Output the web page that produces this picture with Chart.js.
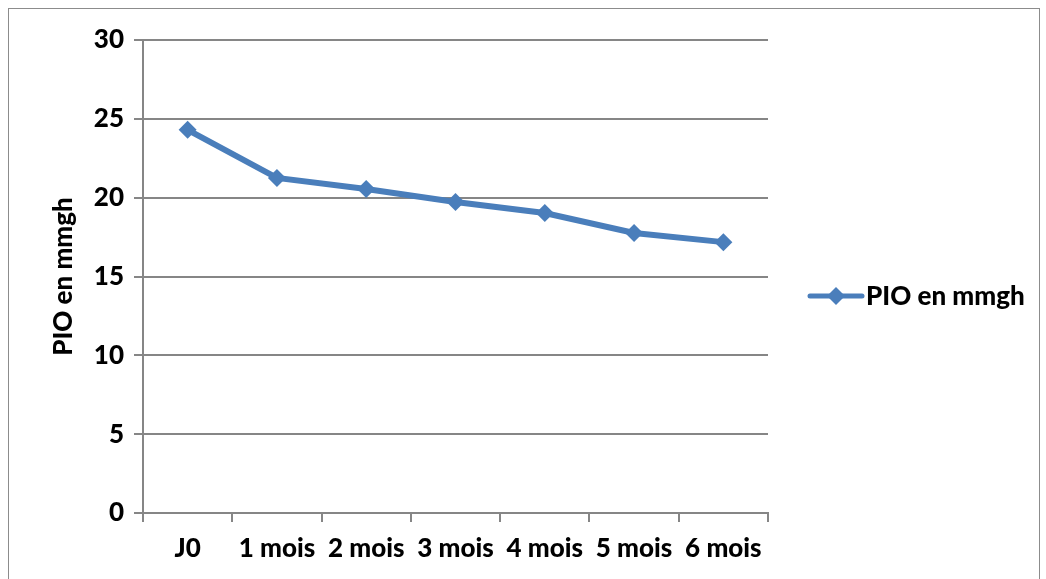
<!DOCTYPE html>
<html>
<head>
<meta charset="utf-8">
<script src="https://cdn.jsdelivr.net/npm/chart.js@4"></script>
<style>
  html, body { margin: 0; padding: 0; background: #fff; }
  #wrap { width: 1046px; height: 579px; position: relative; }
</style>
</head>
<body>
<div id="wrap"><canvas id="chart1" width="1046" height="579"></canvas></div>
<script>
var categories = ['J0', '1 mois', '2 mois', '3 mois', '4 mois', '5 mois', '6 mois'];
var pioValues = [24.3, 21.25, 20.55, 19.72, 19.03, 17.76, 17.18];
var seriesName = 'PIO en mmgh';
var yTicks = [0, 5, 10, 15, 20, 25, 30];

var lineColor = '#4a7ebb';
var gridColor = '#868686';
var fontFam = 'Lato, "Open Sans", sans-serif';

// outer frame + legend (line with diamond, like the original)
var framePlugin = {
    id: 'frameLegend',
    beforeDraw: function (chart) {
        var c = chart.ctx;
        c.save();
        c.strokeStyle = '#8c8c8c';
        c.lineWidth = 1;
        c.strokeRect(8.5, 8.5, 1031, 600);
        c.restore();
    },
    afterDraw: function (chart) {
        var c = chart.ctx;
        var y = 296;
        c.save();
        c.strokeStyle = lineColor;
        c.lineWidth = 5;
        c.lineCap = 'round';
        c.beginPath();
        c.moveTo(810, y);
        c.lineTo(862, y);
        c.stroke();
        c.fillStyle = lineColor;
        c.beginPath();
        c.moveTo(836, y - 9);
        c.lineTo(845, y);
        c.lineTo(836, y + 9);
        c.lineTo(827, y);
        c.closePath();
        c.fill();
        c.fillStyle = '#000';
        c.font = '900 26px ' + fontFam;
        c.textBaseline = 'middle';
        c.fillText(seriesName, 866, y + 1);
        c.restore();
    }
};

var ctx1 = document.getElementById('chart1').getContext('2d');
var myChart = new Chart(ctx1, {
    type: 'line',
    data: {
        labels: categories,
        datasets: [{
            label: seriesName,
            data: pioValues,
            borderColor: lineColor,
            backgroundColor: lineColor,
            borderWidth: 6,
            pointStyle: 'rectRot',
            pointRadius: 9,
            pointHoverRadius: 9,
            pointBorderWidth: 0,
            tension: 0
        }]
    },
    options: {
        responsive: false,
        animation: false,
        layout: { padding: { top: 40, right: 278, bottom: 0, left: 0 } },
        plugins: {
            legend: { display: false },
            tooltip: { enabled: false }
        },
        scales: {
            x: {
                offset: true,
                grid: {
                    offset: true,
                    drawOnChartArea: false,
                    drawTicks: true,
                    tickLength: 9,
                    color: gridColor,
                    lineWidth: 2
                },
                border: { color: gridColor, width: 2 },
                ticks: {
                    color: '#000',
                    padding: 11,
                    maxRotation: 0,
                    autoSkip: false,
                    font: { family: fontFam, size: 26, weight: '900' }
                },
                afterFit: function (scale) { scale.height = 66; }
            },
            y: {
                min: 0,
                max: 30,
                afterBuildTicks: function (scale) {
                    scale.ticks = yTicks.map(function (v) { return { value: v }; });
                },
                grid: {
                    color: gridColor,
                    lineWidth: 2,
                    tickLength: 9
                },
                border: { color: gridColor, width: 2 },
                ticks: {
                    color: '#000',
                    padding: 10,
                    font: { family: fontFam, size: 26, weight: '900' }
                },
                title: {
                    display: true,
                    text: seriesName,
                    color: '#000',
                    padding: { top: 48, bottom: 0 },
                    font: { family: fontFam, size: 26, weight: '900' }
                },
                afterFit: function (scale) { scale.width = 143; }
            }
        }
    },
    plugins: [framePlugin]
});
</script>
</body>
</html>
